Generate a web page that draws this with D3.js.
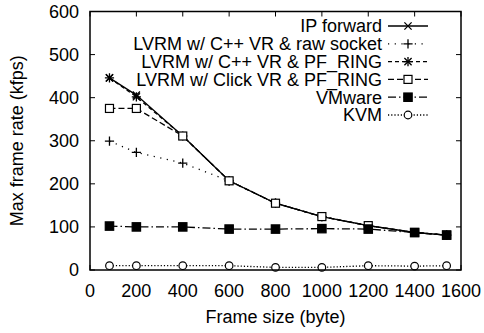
<!DOCTYPE html>
<html>
<head>
<meta charset="utf-8">
<script src="https://cdn.jsdelivr.net/npm/d3@7"></script>
<style>
  html, body { margin: 0; padding: 0; background: #fff; }
  svg { display: block; }
  text { font-family: "Liberation Sans", Arial, Helvetica, sans-serif; fill: #000; }
</style>
</head>
<body>
<svg id="chart" width="484" height="333"></svg>
<script>
// Frame sizes (bytes on the wire) and measured max frame rates (kfps)
const frameSizes = [84, 200, 400, 600, 800, 1000, 1200, 1400, 1538];
const ipForward   = [446, 406, 311, 207, 155, 124, 103, 87, 81];
const cppRawSock  = [299, 273, 248, 207, 155, 124, 103, 87, 81];
const cppPfRing   = [446, 402, 311, 207, 155, 124, 103, 87, 81];
const clickPfRing = [375, 375, 311, 207, 155, 124, 103, 87, 81];
const vmware      = [102, 100, 100, 95, 95, 96, 95, 87, 81];
const kvm         = [10, 10, 10, 10, 6, 6, 10, 9, 10];

const seriesNames = [
  "IP forward",
  "LVRM w/ C++ VR & raw socket",
  "LVRM w/ C++ VR & PF_RING",
  "LVRM w/ Click VR & PF_RING",
  "VMware",
  "KVM"
];
const seriesValues = [ipForward, cppRawSock, cppPfRing, clickPfRing, vmware, kvm];
const xTicks = [0, 200, 400, 600, 800, 1000, 1200, 1400, 1600];
const yTicks = [0, 100, 200, 300, 400, 500, 600];

// Line and point styles per series
const styles = [
  { dash: null,          marker: "cross" },
  { dash: "1.2,5.5",     marker: "plus" },
  { dash: "4,3",         marker: "star" },
  { dash: "6,3",         marker: "squareOpen" },
  { dash: "8,3,1.5,3",   marker: "squareFilled" },
  { dash: "1.2,2",       marker: "circleOpen" }
];

const svg = d3.select("#chart");
const L = 90, R = 461, T = 11.5, B = 270;
const FS = 18;
const x = d3.scaleLinear().domain([0, 1600]).range([L, R]);
const y = d3.scaleLinear().domain([0, 600]).range([B, T]);

function drawMarker(g, type, cx, cy) {
  const s = 3.6;
  if (type === "cross" || type === "star") {
    g.append("path").attr("d", `M${cx - s},${cy - s}L${cx + s},${cy + s}M${cx - s},${cy + s}L${cx + s},${cy - s}`)
      .attr("stroke", "#000").attr("stroke-width", 1.3).attr("fill", "none");
  }
  if (type === "plus" || type === "star") {
    const p = 4.6;
    g.append("path").attr("d", `M${cx - p},${cy}L${cx + p},${cy}M${cx},${cy - p}L${cx},${cy + p}`)
      .attr("stroke", "#000").attr("stroke-width", 1.3).attr("fill", "none");
  }
  if (type === "squareOpen" || type === "squareFilled") {
    const h = type === "squareFilled" ? 4.2 : 4;
    g.append("rect").attr("x", cx - h).attr("y", cy - h).attr("width", 2 * h).attr("height", 2 * h)
      .attr("fill", type === "squareFilled" ? "#000" : "#fff")
      .attr("stroke", "#000").attr("stroke-width", 1.2);
  }
  if (type === "circleOpen") {
    g.append("circle").attr("cx", cx).attr("cy", cy).attr("r", 3.8)
      .attr("fill", "#fff").attr("stroke", "#000").attr("stroke-width", 1.2);
  }
}

// Axes with inward ticks, mirrored on the top and right
const tickLen = 5;
const axisG = svg.append("g");
yTicks.forEach(v => {
  axisG.append("line").attr("x1", L).attr("x2", L + tickLen).attr("y1", y(v)).attr("y2", y(v)).attr("stroke", "#000");
  axisG.append("line").attr("x1", R).attr("x2", R - tickLen).attr("y1", y(v)).attr("y2", y(v)).attr("stroke", "#000");
  axisG.append("text").attr("x", L - 11).attr("y", y(v)).attr("dy", "0.35em")
    .attr("text-anchor", "end").attr("font-size", FS).text(v);
});
xTicks.forEach(v => {
  axisG.append("line").attr("x1", x(v)).attr("x2", x(v)).attr("y1", B).attr("y2", B - tickLen).attr("stroke", "#000");
  axisG.append("line").attr("x1", x(v)).attr("x2", x(v)).attr("y1", T).attr("y2", T + tickLen).attr("stroke", "#000");
  axisG.append("text").attr("x", x(v)).attr("y", 297)
    .attr("text-anchor", "middle").attr("font-size", FS).text(v);
});

axisG.append("text").attr("x", (L + R) / 2).attr("y", 323)
  .attr("text-anchor", "middle").attr("font-size", FS).text("Frame size (byte)");
axisG.append("text").attr("transform", `translate(23,${(T + B) / 2}) rotate(-90)`)
  .attr("text-anchor", "middle").attr("font-size", FS).text("Max frame rate (kfps)");

// Series
const line = d3.line().x(d => x(d[0])).y(d => y(d[1]));
seriesValues.forEach((vals, i) => {
  const pts = frameSizes.map((f, j) => [f, vals[j]]);
  const g = svg.append("g");
  g.append("path").attr("d", line(pts)).attr("fill", "none").attr("stroke", "#000")
    .attr("stroke-width", 1.3).attr("stroke-dasharray", styles[i].dash);
  pts.forEach(p => drawMarker(g, styles[i].marker, x(p[0]), y(p[1])));
});

// Legend
const legY0 = 26, legDy = 17.8;
seriesNames.forEach((name, i) => {
  const ly = legY0 + i * legDy;
  const g = svg.append("g");
  g.append("text").attr("x", 382).attr("y", ly).attr("dy", "0.35em")
    .attr("text-anchor", "end").attr("font-size", FS).text(name);
  g.append("line").attr("x1", 388).attr("x2", 428).attr("y1", ly).attr("y2", ly)
    .attr("stroke", "#000").attr("stroke-width", 1.3).attr("stroke-dasharray", styles[i].dash);
  drawMarker(g, styles[i].marker, 408, ly);
});

// Border
svg.append("rect").attr("x", L).attr("y", T).attr("width", R - L).attr("height", B - T)
  .attr("fill", "none").attr("stroke", "#000").attr("stroke-width", 1.5);
</script>
</body>
</html>
